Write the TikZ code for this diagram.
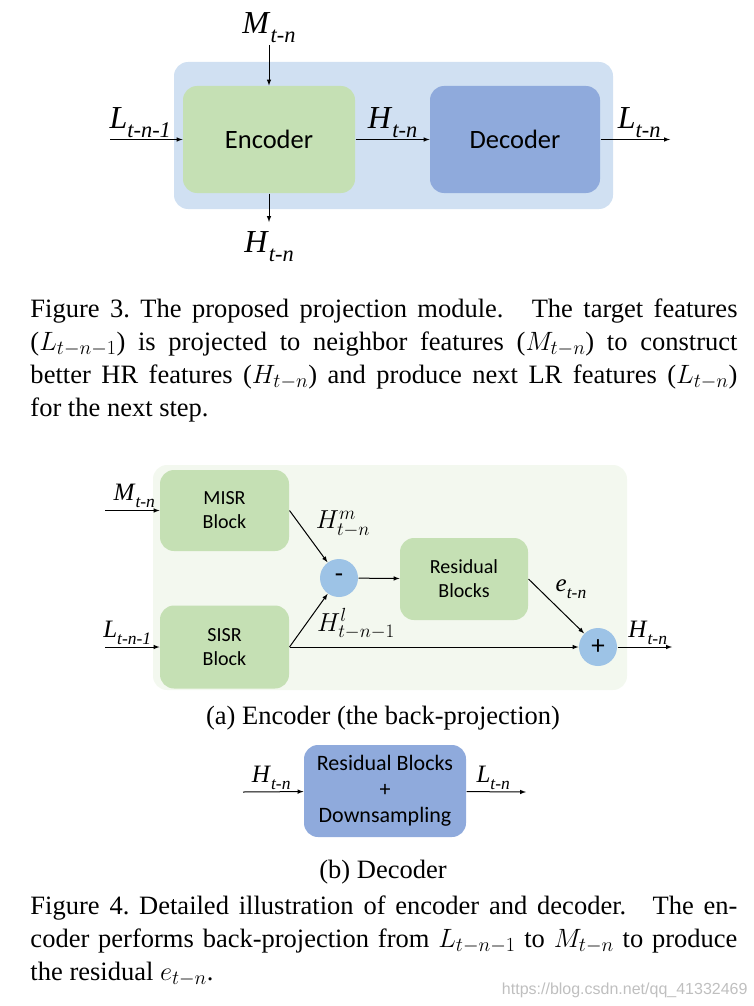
\RequirePackage{fix-cm}
\documentclass[tikz,border=0pt]{standalone}
\usepackage{fontspec}
\setmainfont{Liberation Serif}
\newfontfamily\boxfont{Carlito}
\newfontfamily\markfont{Liberation Sans}
\usetikzlibrary{shapes,arrows,positioning}
\DeclareMathSizes{26.5}{26.5}{20}{15}
\DeclareMathSizes{26}{26}{19}{15}
\definecolor{projbg}{HTML}{D0E0F2}
\definecolor{encbg}{HTML}{F3F8EF}
\definecolor{encgreen}{HTML}{C5E0B4}
\definecolor{decblue}{HTML}{8FAADC}
\definecolor{opblue}{HTML}{9DC3E6}
\newcommand{\varlab}[2]{\textit{#1}\raisebox{-0.28em}{\scalebox{0.7}{\itshape #2}}}
\tikzset{
  block/.style={draw=none, rounded corners=14pt, align=center, inner sep=0pt},
  encblock/.style={block, fill=encgreen},
  decblock/.style={block, fill=decblue},
  bigtext/.style={font=\boxfont\fontsize{26.5}{28}\selectfont},
  smalltext/.style={font=\boxfont\fontsize{20}{24}\selectfont},
  opcircle/.style={draw=none, shape=circle, fill=opblue, minimum size=38pt, inner sep=0pt,
    font=\boxfont\fontsize{27}{27}\selectfont},
  biglab/.style={font=\fontsize{32}{32}\selectfont, inner sep=1pt},
  lab/.style={font=\fontsize{25}{25}\selectfont, inner sep=1pt},
  mathlab/.style={font=\fontsize{26}{26}\selectfont, inner sep=1pt},
  caption/.style={font=\fontsize{26.5}{33}\selectfont, inner sep=0pt},
  watermark/.style={font=\markfont\fontsize{16}{16}\selectfont, text=black!25, inner sep=0pt},
}
\tikzstyle{arrow} = [->,>=latex]

\begin{document}
\begin{tikzpicture}[x=1pt,y=-1pt,line width=1pt]
  \useasboundingbox (0,0) rectangle (754,1006);

  % projection module
  \node[block,fill=projbg,minimum width=439,minimum height=147] (projbox) at (393.5,135.5) {};
  \node[encblock,bigtext,minimum width=172,minimum height=107] (projenc) at (269,139.5) {Encoder};
  \node[decblock,bigtext,minimum width=170,minimum height=107] (projdec) at (515,139.5) {Decoder};
  \coordinate (projin1) at (110,139.5);
  \coordinate (projin2) at (269,45);
  \coordinate (projo1) at (670,139.5);
  \coordinate (projo2) at (269,222);
  \draw[arrow] (projin1) -- (projenc) node[biglab,midway,above=0pt,xshift=-6pt] {\varlab{L}{t-n-1}};
  \draw[arrow] (projin2) -- (projenc);
  \draw[arrow] (projenc) -- (projo2);
  \draw[arrow] (projenc) -- (projdec) node[biglab,midway,above=0pt] {\varlab{H}{t-n}};
  \draw[arrow] (projdec) -- (projo1) node[biglab,midway,above=0pt,xshift=4pt] {\varlab{L}{t-n}};
  \node[biglab,above=1pt of projin2] (projl1) {\varlab{M}{t-n}};
  \node[biglab,below=8pt of projo2] (projl2) {\varlab{H}{t-n}};

  \node[caption,anchor=north west,text width=707,align=justify] (fig3cap) at (30,298)
    {Figure 3.\ The proposed projection module.\hspace{0.3em} The target features\linebreak
     ($L_{t-n-1}$) is projected to neighbor features ($M_{t-n}$) to construct\linebreak
     better HR features ($H_{t-n}$) and produce next LR features ($L_{t-n}$)\linebreak
     for the next step.};

  % encoder
  \node[block,fill=encbg,minimum width=474,minimum height=225] (encbox) at (390,577.5) {};
  \node[encblock,smalltext,minimum width=129,minimum height=81] (encmisr) at (224.5,510.5) {MISR\\Block};
  \node[encblock,smalltext,minimum width=129,minimum height=83] (encsisr) at (224.5,647) {SISR\\Block};
  \node[encblock,smalltext,minimum width=128,minimum height=82] (encres) at (464,579) {Residual\\Blocks};
  \node[opcircle] (encv1) at (339,578) {-};
  \node[opcircle] (encv2) at (598,647) {+};
  \coordinate (encin1) at (105,510.5);
  \coordinate (encin2) at (105,647);
  \coordinate (enco1) at (672,647);
  \draw[arrow] (encin1) -- (encmisr) node[lab,midway,above=1pt,xshift=2pt] {\varlab{M}{t-n}};
  \draw[arrow] (encin2) -- (encsisr) node[lab,midway,above=1pt,xshift=-5pt] {\varlab{L}{t-n-1}};
  \draw[arrow] (encmisr.east) -- (encv1);
  \draw[arrow] (encsisr.east) -- (encv1);
  \draw[arrow] (encsisr) -- (encv2);
  \draw[arrow] (encv1) -- (encres);
  \draw[arrow] (encres.east) -- (encv2);
  \draw[arrow] (encv2) -- (enco1) node[lab,midway,above=1pt,xshift=3pt] {\varlab{H}{t-n}};
  \node[mathlab] (encl1) at (343,524) {$H^m_{t-n}$};
  \node[mathlab] (encl2) at (356,624) {$H^l_{t-n-1}$};
  \node[lab] (encl3) at (571,589) {\varlab{e}{t-n}};
  \node[caption] (fig4acap) at (383,718) {(a) Encoder (the back-projection)};

  % decoder
  \node[decblock,font=\boxfont\fontsize{22}{26}\selectfont,minimum width=162,minimum height=92] (decbox) at (385,791) {Residual Blocks\\+\\Downsampling};
  \coordinate (decin1) at (243,792);
  \coordinate (deco1) at (526,792);
  \draw[arrow] (decin1) -- (decbox) node[lab,midway,above=1pt,xshift=-2pt] {\varlab{H}{t-n}};
  \draw[arrow] (decbox) -- (deco1) node[lab,midway,above=1pt,xshift=-3pt] {\varlab{L}{t-n}};
  \node[caption] (fig4bcap) at (383,872) {(b) Decoder};

  \node[caption,anchor=north west,text width=707,align=justify] (fig4cap) at (30,895)
    {Figure 4.\ Detailed illustration of encoder and decoder.\hspace{0.3em} The en-\linebreak
     coder performs back-projection from $L_{t-n-1}$ to $M_{t-n}$ to produce\linebreak
     the residual $e_{t-n}$.};

  \node[watermark,anchor=east] (wmark) at (748,990) {https://blog.csdn.net/qq\_41332469};
\end{tikzpicture}
\end{document}
